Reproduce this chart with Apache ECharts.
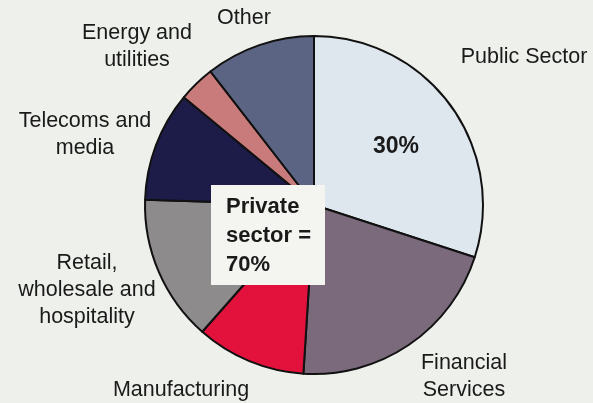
<!DOCTYPE html>
<html>
<head>
<meta charset="utf-8">
<script src="https://cdn.jsdelivr.net/npm/echarts@6/dist/echarts.min.js"></script>
<style>
  html, body { margin: 0; padding: 0; background: #eef0eb; }
  #chart { width: 593px; height: 403px; }
</style>
</head>
<body>
<div id="chart"></div>
<script>
// Employment share by sector (%), clockwise from 12 o'clock
const sectors = [
  'Public Sector',
  'Financial\nServices',
  'Manufacturing',
  'Retail,\nwholesale and\nhospitality',
  'Telecoms and\nmedia',
  'Energy and\nutilities',
  'Other'
];
const shares = [30, 21, 10.5, 14, 10.5, 3.5, 10.5];
const sliceColors = ['#dfe7ee', '#7a6a7c', '#e2123c', '#8e8b8d', '#1d1b47', '#c97b7b', '#5c6483'];

// Where each sector name sits around the pie
const labelSpots = [
  [524, 57], [464, 377], [181, 390], [87, 290], [85, 135], [137, 47], [244, 18]
];

const publicShare = shares[0];
const privateShare = shares.slice(1).reduce((a, b) => a + b, 0);

const chart = echarts.init(document.getElementById('chart'), null, { renderer: 'canvas' });

chart.setOption({
  backgroundColor: '#eef0eb',
  animation: false,
  series: [{
    type: 'pie',
    center: [314, 205],
    radius: 169,
    startAngle: 90,
    clockwise: true,
    data: sectors.map((name, i) => ({
      name: name,
      value: shares[i],
      itemStyle: { color: sliceColors[i] }
    })),
    itemStyle: { borderColor: '#111', borderWidth: 2 },
    label: {
      show: true,
      position: 'outside',
      formatter: '{b}',
      fontFamily: 'Liberation Sans, Arial, sans-serif',
      fontSize: 21.5,
      lineHeight: 27,
      color: '#1a1a1a',
      align: 'center',
      overflow: 'none',
      width: 300
    },
    labelLine: { show: false },
    labelLayout: function (p) {
      const s = labelSpots[p.dataIndex];
      return { x: s[0], y: s[1], align: 'center', verticalAlign: 'middle' };
    },
    emphasis: { disabled: true }
  }],
  graphic: [
    {
      type: 'text',
      z: 100,
      left: 373, top: 135,
      style: {
        text: publicShare + '%',
        font: 'bold 23px Liberation Sans, Arial, sans-serif',
        fill: '#1a1a1a'
      }
    },
    {
      type: 'rect',
      z: 100,
      shape: { x: 211, y: 185, width: 114, height: 100 },
      style: { fill: '#f4f5f1' }
    },
    {
      type: 'text',
      z: 101,
      x: 226, y: 236,
      style: {
        text: 'Private\nsector =\n' + privateShare + '%',
        font: 'bold 22px Liberation Sans, Arial, sans-serif',
        lineHeight: 29,
        fill: '#1a1a1a',
        align: 'left',
        verticalAlign: 'middle'
      }
    }
  ]
});
</script>
</body>
</html>
